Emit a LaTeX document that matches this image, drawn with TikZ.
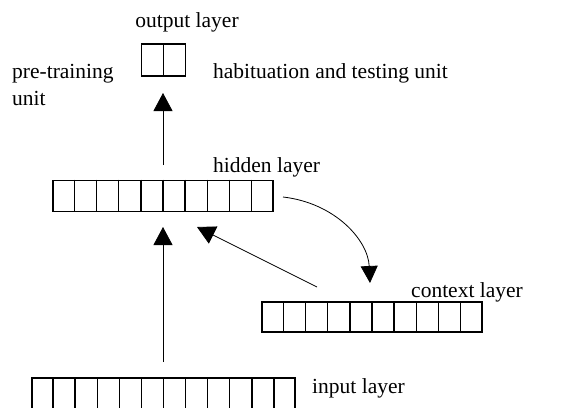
\documentclass[tikz,border=0pt]{standalone}
\usepackage{fontspec}
\setmainfont{Liberation Serif}
\usetikzlibrary{arrows.meta,calc}
\tikzset{
  lbl/.style={inner sep=0pt, font=\fontsize{21.5}{27}\selectfont},
  layerbox/.style={draw, line width=1.6pt, inner sep=0pt},
  conn/.style={line width=0.8pt, -{Triangle[length=18pt,width=19pt]}},
}
\newcommand{\cells}[2]{% node name, number of cells
  \foreach \k in {1,...,\numexpr#2-1\relax}{
    \draw[line width=1.6pt] ($(#1.north west)!\k/#2!(#1.north east)$) -- ($(#1.south west)!\k/#2!(#1.south east)$);
  }
}
\begin{document}
\begin{tikzpicture}[x=1pt,y=-1pt]
\clip (0,0) rectangle (581,407);
\useasboundingbox (0,0) rectangle (581,407);
% layers
\node[layerbox, minimum width=44pt, minimum height=32pt] (out) at (163.5,60) {};
\cells{out}{2}
\node[layerbox, minimum width=220pt, minimum height=31pt] (hid) at (163,196) {};
\cells{hid}{10}
\node[layerbox, minimum width=220pt, minimum height=30pt] (ctx) at (372,317) {};
\cells{ctx}{10}
\node[layerbox, minimum width=263pt, minimum height=31pt] (inp) at (163.5,393.5) {};
\cells{inp}{12}
% labels
\node[lbl, anchor=base] (tout) at (187,27) {output layer};
\node[lbl, anchor=base west, align=left] (tpre) at (12,105) {pre-training\\unit};
\node[lbl, anchor=base west] (thab) at (213,78) {habituation and testing unit};
\node[lbl, anchor=base west] (thid) at (213,172) {hidden layer};
\node[lbl, anchor=base west] (tctx) at (411,297) {context layer};
\node[lbl, anchor=base west] (tinp) at (312,393) {input layer};
% connectors
\coordinate (s1) at (163,165);
\coordinate (e1) at (163,93);
\coordinate (s2) at (163,362);
\coordinate (e2) at (163,227);
\coordinate (s3) at (317,287);
\coordinate (e3) at (197,227);
\coordinate (s4) at (283,197);
\coordinate (e4) at (370,283);
\draw[conn] (s1) -- (e1);
\draw[conn] (s2) -- (e2);
\draw[conn] (s3) -- (e3);
\draw[line width=0.8pt, -{Triangle[length=17pt,width=17pt]}] (s4) .. controls (335,203) and (368,240) .. (e4);
\end{tikzpicture}
\end{document}
